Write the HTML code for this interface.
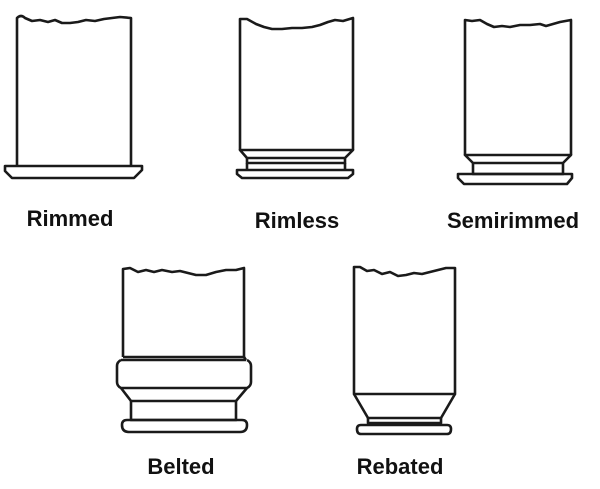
<!DOCTYPE html>
<html><head><style>
html,body{margin:0;padding:0;background:#fff;width:600px;height:489px;overflow:hidden}
text{font-family:"Liberation Sans",Arial,sans-serif;font-weight:bold;font-size:22px;fill:#111}
</style></head><body>
<svg width="600" height="489" viewBox="0 0 600 489" xmlns="http://www.w3.org/2000/svg">
<g fill="none" stroke="#1a1a1a" stroke-width="2.6" stroke-linejoin="round">
<!-- Rimmed -->
<path d="M17,166 V18 Q21,14 25,18 L32,21 L40,20 L48,22 L55,20 L62,23 L70,23 L78,22 L86,20 L95,21 L104,19 L112,18 L120,17 L131,18 V166"/>
<path d="M5,166 H142 V170 L134,178 H12 L5,171 Z"/>
<!-- Rimless -->
<path d="M240,150 V19 L247,19 L256,24 L264,27 L272,29 L282,29 L292,28 L302,28 L312,27 L320,25 L328,22 L335,20 L343,21 L353,18 V150"/>
<path d="M240,150 H353 L345,158 H247 Z"/>
<path d="M247,158 V163 H345 V158"/>
<path d="M247,163 V170 M345,163 V170"/>
<path d="M237,170 H353 V174 L348,178 H242 L237,174 Z"/>
<!-- Semirimmed -->
<path d="M465,155 V20 L472,21 L480,20 L487,24 L494,27 L502,26 L510,27 L520,25 L530,25 L540,24 L546,26 L553,24 L560,22 L571,20 V155"/>
<path d="M465,155 H571 L563,163 H473 Z"/>
<path d="M473,163 V174 H563 V163"/>
<path d="M458,174 H572 V178 L567,184 H464 L458,178 Z"/>
<!-- Belted -->
<path d="M123,357 V269 L130,268 L138,272 L146,270 L154,272 L162,270 L172,272 L180,271 L188,273 L196,275 L206,275 L216,272 L226,270 L236,270 L244,268 V357"/>
<path d="M123,357 H244 L246,360 M121,360 H246"/>
<path d="M121,360 Q117,362 117,366 V382 Q117,386 121,388 H247 Q251,386 251,382 V366 Q251,362 247,360"/>
<path d="M121,388 L131,401 H236 L247,388"/>
<path d="M131,401 V420 H236 V401"/>
<path d="M127,420 H242 Q247,420 247,425 Q247,432 240,432 H129 Q122,432 122,425 Q122,420 127,420 Z"/>
<!-- Rebated -->
<path d="M354,394 V267 L360,267 L367,271 L374,270 L382,274 L390,272 L398,276 L406,275 L414,273 L422,274 L430,272 L438,270 L446,268 L455,268 V394 Z"/>
<path d="M354,394 L368,418 H441 L455,394"/>
<path d="M368,418 V423 H441 V418"/>
<path d="M361,425 H447 Q451,425 451,429 Q451,434 447,434 H361 Q357,434 357,429 Q357,425 361,425 Z"/>
</g>
<text x="70" y="226" text-anchor="middle">Rimmed</text>
<text x="297" y="228" text-anchor="middle">Rimless</text>
<text x="513" y="228" text-anchor="middle">Semirimmed</text>
<text x="181" y="474" text-anchor="middle">Belted</text>
<text x="400" y="474" text-anchor="middle">Rebated</text>
</svg>
</body></html>
